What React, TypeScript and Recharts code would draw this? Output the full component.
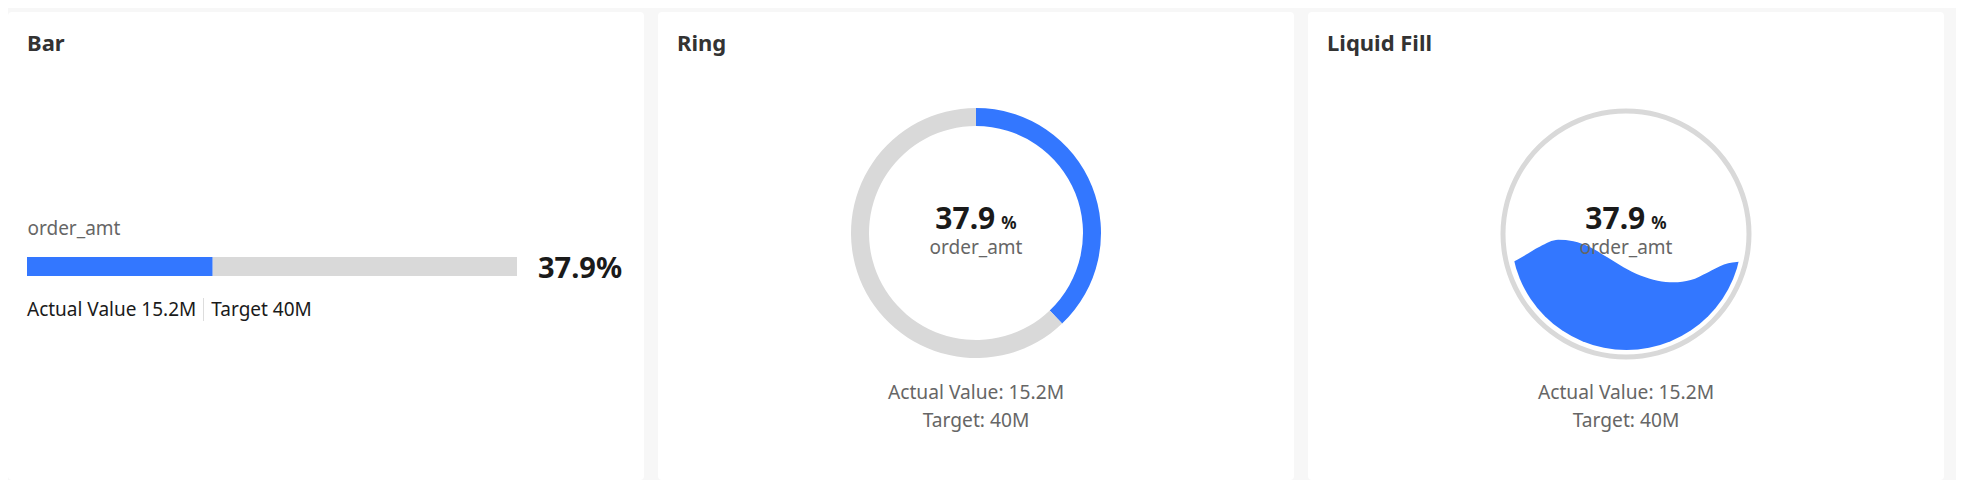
import React from 'react';
import { BarChart, Bar, XAxis, YAxis, PieChart, Pie, Cell, AreaChart, Area } from 'recharts';

// values
const metricNames = ['order_amt'];
const actualValues = ['15.2M'];
const targetValues = ['40M'];
const completion = [37.9]; // percent of target reached

// liquid wave surface: position across the gauge (%) -> water level (% of diameter)
const wavePos = [0, 5, 12.6, 20.4, 27, 34.3, 41.7, 48.7, 56, 63.5, 70.4, 77.8, 85.2, 92.2, 100];
const waveLevel = [37.6, 40.4, 44.8, 47.7, 47.1, 44.5, 40.1, 35.8, 32.2, 30.0, 29.3, 30.3, 33.6, 37.0, 38.3];

const BLUE = '#3377ff';
const TRACK = '#d9d9d9';
const FONT = '"Noto Sans", sans-serif';

const pct = completion[0];
const barData = [{ name: metricNames[0], done: pct, rest: 100 - pct }];
const ringData = [
    { name: 'actual', value: pct },
    { name: 'rest', value: 100 - pct },
];
const trackData = [{ name: 'track', value: 100 }];
const waveData = wavePos.map((p, i) => ({ pos: p, level: waveLevel[i] }));

// text placed by its baseline (Noto Sans metrics: ascent 1.069, descent 0.293)
const Txt: React.FC<{ x: number; base: number; size: number; lh?: number; weight?: number; color: string; center?: boolean; children: React.ReactNode }> = ({ x, base, size, lh, weight = 400, color, center, children }) => {
    const lineH = lh ?? size;
    const top = base - ((lineH - 1.362 * size) / 2 + 1.069 * size);
    return (
        <div style={{
            position: 'absolute', left: center ? x - 200 : x, width: center ? 400 : undefined,
            top, fontSize: size, lineHeight: `${lineH}px`, fontWeight: weight,
            color, textAlign: center ? 'center' : 'left', whiteSpace: 'nowrap',
        }}>{children}</div>
    );
};

const Card: React.FC<{ left: number; title: string; children: React.ReactNode }> = ({ left, title, children }) => (
    <div style={{ position: 'absolute', left, top: 12, width: 636, height: 468, background: '#fff', borderRadius: 4 }}>
        <Txt x={19} base={38.7} size={22} weight={700} color="#333">{title}</Txt>
        {children}
    </div>
);

const CenterValue: React.FC<{ cx: number }> = ({ cx }) => (
    <>
        <Txt x={cx} base={217.5} size={30} lh={22} weight={700} color="#1a1a1a" center>
            {pct.toFixed(1)}<span style={{ fontSize: 17, lineHeight: '12px', marginLeft: 6 }}>%</span>
        </Txt>
        <Txt x={cx} base={242.5} size={19} lh={15} color="#666" center>{metricNames[0]}</Txt>
        <Txt x={cx} base={387} size={19.2} color="#666" center>Actual Value: {actualValues[0]}</Txt>
        <Txt x={cx} base={415.5} size={19.2} color="#666" center>Target: {targetValues[0]}</Txt>
    </>
);

export default function App() {
    return (
        <div style={{ position: 'relative', margin: -8, width: 1964, height: 488, background: '#f7f7f7', fontFamily: FONT, overflow: 'hidden' }}>
            <Card left={8} title="Bar">
                <Txt x={19.5} base={224} size={19} color="#666">{metricNames[0]}</Txt>
                <div style={{ position: 'absolute', left: 19, top: 245, width: 490, height: 19 }}>
                    <BarChart width={490} height={19} data={barData} layout="vertical" margin={{ top: 0, right: 0, bottom: 0, left: 0 }} barCategoryGap={0}>
                        <XAxis type="number" domain={[0, 100]} hide />
                        <YAxis type="category" dataKey="name" hide />
                        <Bar dataKey="done" stackId="a" fill={BLUE} isAnimationActive={false} />
                        <Bar dataKey="rest" stackId="a" fill={TRACK} isAnimationActive={false} />
                    </BarChart>
                </div>
                <Txt x={530} base={265.7} size={29} weight={700} color="#1a1a1a">{pct.toFixed(1)}%</Txt>
                <div style={{ position: 'absolute', left: 19, top: 303 - 0.888 * 19, display: 'flex', alignItems: 'center', fontSize: 19, lineHeight: '19px', color: '#1a1a1a', whiteSpace: 'nowrap' }}>
                    <span>Actual Value {actualValues[0]}</span>
                    <span style={{ width: 1, height: 23, background: '#ddd', margin: '0 7px' }} />
                    <span>Target {targetValues[0]}</span>
                </div>
            </Card>

            <Card left={658} title="Ring">
                <div style={{ position: 'absolute', left: 318 - 130, top: 221.3 - 130, width: 260, height: 260 }}>
                    <PieChart width={260} height={260} margin={{ top: 0, right: 0, bottom: 0, left: 0 }}>
                        <Pie data={ringData} dataKey="value" cx="50%" cy="50%" innerRadius={107} outerRadius={125}
                            startAngle={90} endAngle={-270} stroke="none" isAnimationActive={false}>
                            <Cell fill={BLUE} />
                            <Cell fill={TRACK} />
                        </Pie>
                    </PieChart>
                </div>
                <CenterValue cx={318} />
            </Card>

            <Card left={1308} title="Liquid Fill">
                <div style={{ position: 'absolute', left: 318 - 130, top: 221.7 - 130, width: 260, height: 260 }}>
                    <PieChart width={260} height={260} margin={{ top: 0, right: 0, bottom: 0, left: 0 }}>
                        <Pie data={trackData} dataKey="value" cx="50%" cy="50%" innerRadius={120.5} outerRadius={125.5}
                            startAngle={90} endAngle={-270} stroke="none" isAnimationActive={false}>
                            <Cell fill={TRACK} />
                        </Pie>
                    </PieChart>
                </div>
                <div style={{ position: 'absolute', left: 318 - 115.5, top: 222.5 - 115.5, width: 231, height: 231, borderRadius: '50%', overflow: 'hidden' }}>
                    <AreaChart width={231} height={231} data={waveData} margin={{ top: 0, right: 0, bottom: 0, left: 0 }}>
                        <XAxis type="number" dataKey="pos" domain={[0, 100]} hide />
                        <YAxis type="number" domain={[0, 100]} hide />
                        <Area type="monotone" dataKey="level" fill={BLUE} fillOpacity={1} stroke="none" isAnimationActive={false} />
                    </AreaChart>
                </div>
                <CenterValue cx={318} />
            </Card>
        </div>
    );
}
